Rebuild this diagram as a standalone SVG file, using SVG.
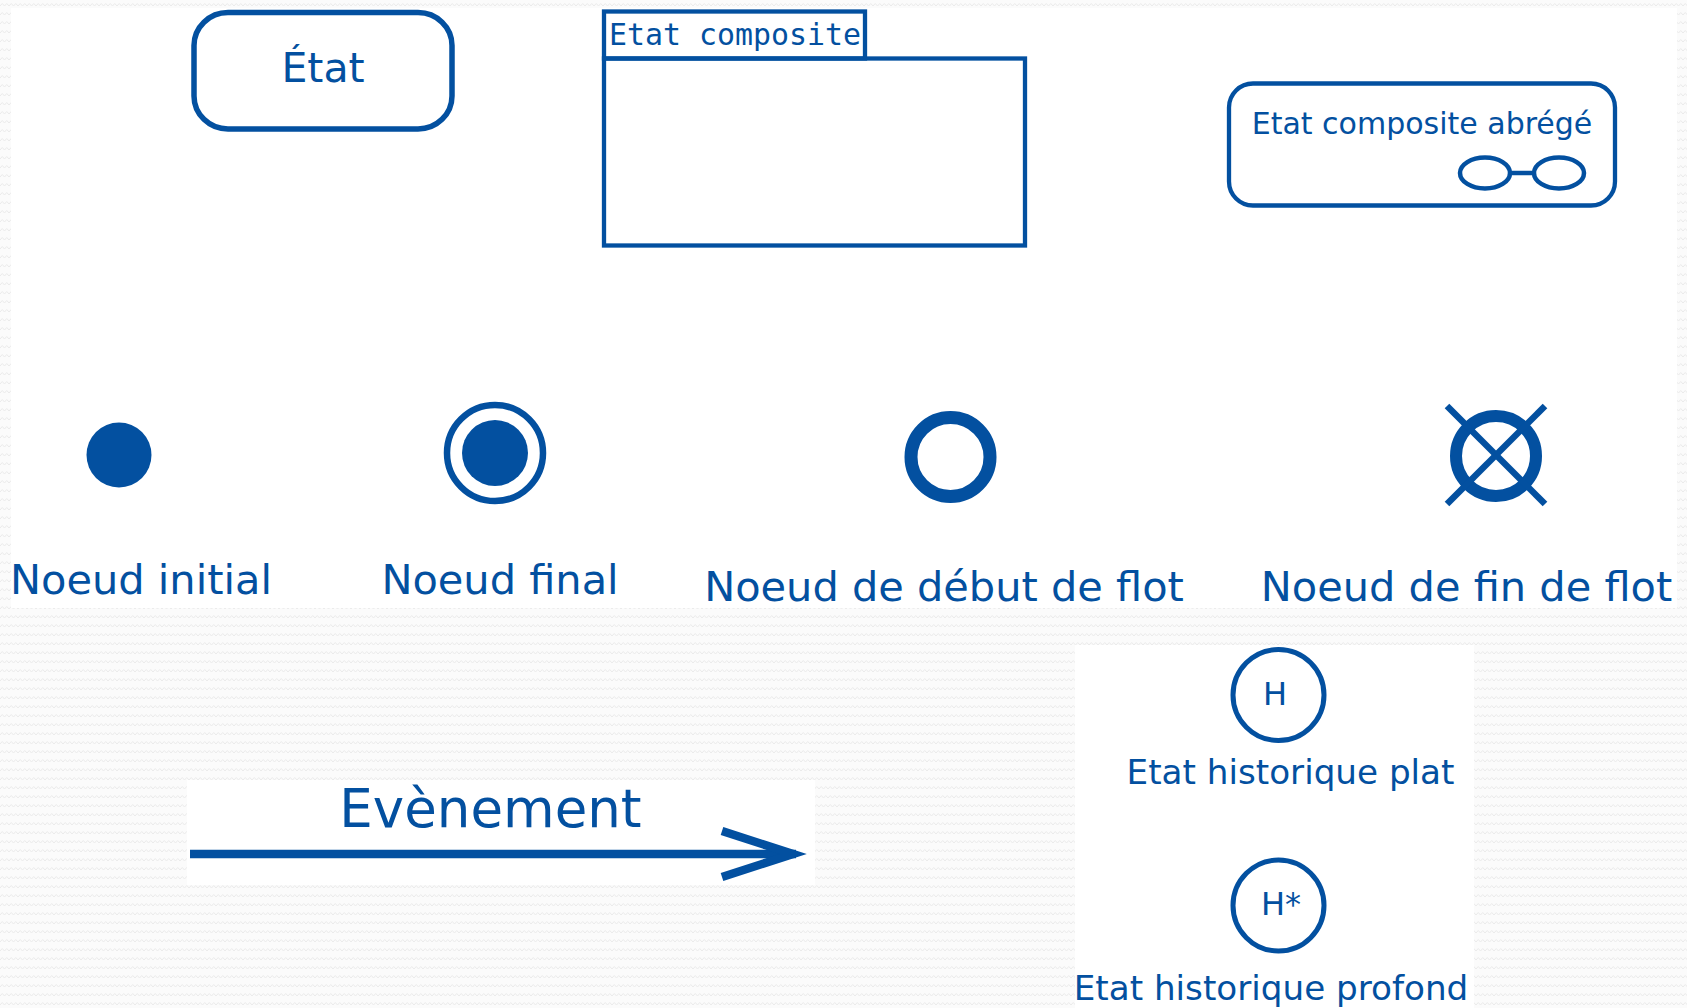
<svg xmlns="http://www.w3.org/2000/svg" width="1687" height="1008" viewBox="0 0 1687 1008">
  <defs>
    <pattern id="bgp" width="9" height="9" patternUnits="userSpaceOnUse">
      <rect width="9" height="9" fill="#fbfbfb"/>
      <polyline points="0,6 2.25,3.5 4.5,6 6.75,3.5 9,6" fill="none" stroke="#ebebeb" stroke-width="1"/>
    </pattern>
  </defs>
  <style>
    .ln { fill: none; stroke: #0350a0; }
    .fl { fill: #0350a0; stroke: none; }
    .tx { fill: #0350a0; font-family: "DejaVu Sans", "Liberation Sans", sans-serif; }
    .mono { fill: #0350a0; font-family: "DejaVu Sans Mono", "Liberation Mono", monospace; }
    .panel { fill: #ffffff; stroke: none; }
  </style>

  <rect width="1687" height="1008" fill="url(#bgp)"/>
  <rect class="panel" x="11" y="8" width="1666" height="600"/>
  <rect class="panel" x="187" y="780" width="628" height="105"/>
  <rect class="panel" x="1075" y="645" width="399" height="363"/>

  <g id="etat">
    <rect class="ln" x="194" y="12.5" width="258" height="116.5" rx="34" ry="33" stroke-width="5.5"/>
    <text class="tx" x="323" y="82" font-size="41" text-anchor="middle">État</text>
  </g>

  <g id="etat-composite">
    <rect class="ln" x="604" y="11.5" width="261" height="47" stroke-width="4.3"/>
    <rect class="ln" x="604" y="58.5" width="421" height="187" stroke-width="4.3"/>
    <text class="mono" x="609" y="45" font-size="29.9">Etat composite</text>
  </g>

  <g id="etat-composite-abrege">
    <rect class="ln" x="1229" y="83.5" width="386" height="122" rx="24" ry="24" stroke-width="4.3"/>
    <text class="tx" x="1422" y="134" font-size="30" text-anchor="middle">Etat composite abrégé</text>
    <ellipse class="ln" cx="1485" cy="173" rx="25" ry="15.5" stroke-width="4.5"/>
    <ellipse class="ln" cx="1559" cy="173" rx="25" ry="15.5" stroke-width="4.5"/>
    <line class="ln" x1="1510" y1="173" x2="1534" y2="173" stroke-width="4.5"/>
  </g>

  <g id="noeud-initial">
    <circle class="fl" cx="119" cy="455" r="32.5"/>
    <text class="tx" x="141" y="594" font-size="41.5" text-anchor="middle">Noeud initial</text>
  </g>

  <g id="noeud-final">
    <circle class="ln" cx="495" cy="453" r="48" stroke-width="6.5"/>
    <circle class="fl" cx="495" cy="453" r="33"/>
    <text class="tx" x="500" y="594" font-size="41.5" text-anchor="middle">Noeud final</text>
  </g>

  <g id="noeud-debut-flot">
    <circle class="ln" cx="950.5" cy="457" r="39.5" stroke-width="13"/>
    <text class="tx" x="944" y="601" font-size="41.5" text-anchor="middle">Noeud de début de flot</text>
  </g>

  <g id="noeud-fin-flot">
    <circle class="ln" cx="1496" cy="456" r="40" stroke-width="12"/>
    <line class="ln" x1="1447" y1="406" x2="1545" y2="504" stroke-width="6.5"/>
    <line class="ln" x1="1545" y1="406" x2="1447" y2="504" stroke-width="6.5"/>
    <text class="tx" x="1466.5" y="601" font-size="41.5" text-anchor="middle">Noeud de fin de flot</text>
  </g>

  <g id="historique-plat">
    <circle class="ln" cx="1278.5" cy="695" r="45.5" stroke-width="5"/>
    <text class="tx" x="1275" y="705" font-size="32" text-anchor="middle">H</text>
    <text class="tx" x="1290.5" y="784" font-size="34.2" text-anchor="middle">Etat historique plat</text>
  </g>

  <g id="historique-profond">
    <circle class="ln" cx="1278.5" cy="905.5" r="45.5" stroke-width="5"/>
    <text class="tx" x="1281" y="915" font-size="32" text-anchor="middle">H*</text>
    <text class="tx" x="1271" y="1000" font-size="34.2" text-anchor="middle">Etat historique profond</text>
  </g>

  <g id="connecteurs">
    <line class="ln" x1="190" y1="854" x2="796" y2="854" stroke-width="8.5"/>
    <polyline class="ln" points="722,831 793,854 722,877" stroke-width="8.5" stroke-linejoin="miter" stroke-miterlimit="10"/>
    <text class="tx" x="490.5" y="827" font-size="53" text-anchor="middle">Evènement</text>
  </g>
</svg>
